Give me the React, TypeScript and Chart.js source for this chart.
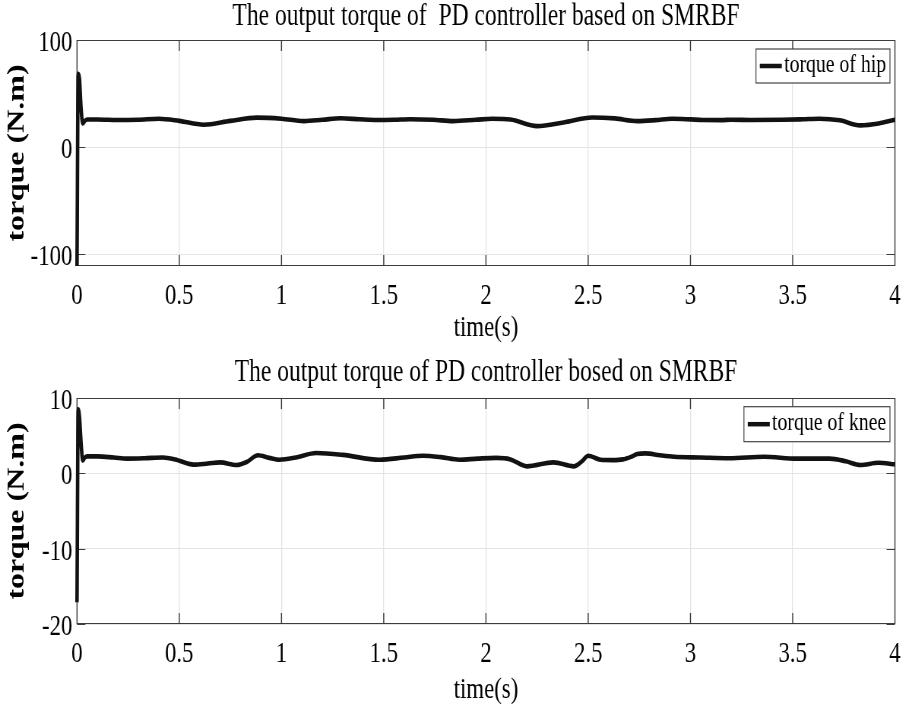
import React, { useEffect, useRef } from 'react';
import { Chart, registerables } from 'chart.js';

Chart.register(...registerables);

// ---------- data ----------
const hipTime = [0, 0.006, 0.012, 0.02, 0.028, 0.038, 0.05, 0.1, 0.2, 0.3, 0.4, 0.5, 0.62, 0.75, 0.88, 1.0, 1.11, 1.2, 1.29, 1.38, 1.47, 1.55, 1.63, 1.74, 1.84, 1.95, 2.03, 2.12, 2.25, 2.38, 2.52, 2.63, 2.74, 2.83, 2.91, 3.0, 3.06, 3.15, 3.2, 3.3, 3.45, 3.55, 3.63, 3.73, 3.83, 3.92, 4.0];
const hipTorque = [-111, 68.5, 64, 36, 22, 24.5, 25.8, 25.8, 25.3, 25.6, 26.5, 24.5, 20.9, 24.5, 27.5, 26.5, 24.3, 25.5, 26.9, 26, 25.3, 25.5, 26, 25.5, 24.3, 25.5, 26.5, 25.8, 19.6, 23, 27.7, 26.8, 24.3, 25.2, 26.5, 25.9, 25.3, 25.2, 25.6, 25.3, 25.5, 26, 26.5, 25, 20.3, 22, 25.6];

const kneeTime = [0, 0.006, 0.012, 0.02, 0.028, 0.038, 0.05, 0.1, 0.18, 0.245, 0.33, 0.42, 0.48, 0.57, 0.64, 0.7, 0.78, 0.83, 0.885, 0.94, 0.99, 1.07, 1.17, 1.3, 1.48, 1.6, 1.69, 1.78, 1.87, 1.96, 2.05, 2.12, 2.2, 2.33, 2.43, 2.47, 2.5, 2.56, 2.62, 2.67, 2.71, 2.74, 2.78, 2.85, 2.92, 3.05, 3.19, 3.36, 3.52, 3.68, 3.76, 3.83, 3.92, 4.0];
const kneeTorque = [-17.1, 8.5, 7.5, 4, 1.7, 2.1, 2.25, 2.25, 2.1, 1.95, 2.0, 2.1, 1.85, 1.15, 1.3, 1.45, 1.1, 1.5, 2.4, 2.05, 1.8, 2.1, 2.7, 2.45, 1.8, 2.1, 2.34, 2.15, 1.8, 1.95, 2.05, 1.85, 0.93, 1.46, 0.93, 1.6, 2.34, 1.8, 1.75, 1.85, 2.2, 2.56, 2.65, 2.4, 2.2, 2.1, 2.0, 2.2, 1.95, 1.95, 1.6, 1.1, 1.4, 1.2];

const xTicks = [0, 0.5, 1, 1.5, 2, 2.5, 3, 3.5, 4];
const xTickLabels = ['0', '0.5', '1', '1.5', '2', '2.5', '3', '3.5', '4'];
const hipYTicks = [-100, 0, 100];
const hipYTickLabels = ['-100', '0', '100'];
const kneeYTicks = [-20, -10, 0, 10];
const kneeYTickLabels = ['-20', '-10', '0', '10'];

const hipTitle = 'The output torque of  PD controller based on SMRBF';
const kneeTitle = 'The output torque of PD controller bosed on SMRBF';
const hipLabel = 'torque of hip';
const kneeLabel = 'torque of knee';
const xTitle = 'time(s)';
const yTitle = 'torque (N.m)';

// ---------- layout ----------
const SCALE_X = 0.76;
const FULL_W = 1197;
const PANEL_H = 355;
const FONT = '"Liberation Serif", "Times New Roman", serif';

const matlabBox = {
  id: 'matlabBox',
  beforeDatasetsDraw(chart: any) {
    const { ctx, chartArea: a, scales } = chart;
    const tl = 11;
    ctx.save();
    ctx.strokeStyle = '#3c3c3c';
    ctx.lineWidth = 1;
    ctx.beginPath();
    ctx.moveTo(a.left, a.top + 0.5); ctx.lineTo(a.right, a.top + 0.5);
    ctx.moveTo(a.left, a.bottom - 0.5); ctx.lineTo(a.right, a.bottom - 0.5);
    scales.y.ticks.forEach((t: any) => {
      const py = Math.round(scales.y.getPixelForValue(t.value)) + 0.5;
      ctx.moveTo(a.left, py); ctx.lineTo(a.left + tl, py);
      ctx.moveTo(a.right, py); ctx.lineTo(a.right - tl, py);
    });
    ctx.stroke();
    ctx.lineWidth = 1.4;
    ctx.beginPath();
    ctx.moveTo(a.left, a.top); ctx.lineTo(a.left, a.bottom);
    ctx.moveTo(a.right, a.top); ctx.lineTo(a.right, a.bottom);
    scales.x.ticks.forEach((t: any) => {
      const px = scales.x.getPixelForValue(t.value);
      ctx.moveTo(px, a.bottom); ctx.lineTo(px, a.bottom - tl);
      ctx.moveTo(px, a.top); ctx.lineTo(px, a.top + tl);
    });
    ctx.stroke();
    ctx.restore();
  },
};

const insideLegend = {
  id: 'insideLegend',
  afterDraw(chart: any, _args: any, opts: any) {
    const { ctx, chartArea: a } = chart;
    const ds = chart.data.datasets[0];
    const label = ds.label as string;
    ctx.save();
    ctx.font = `26px ${FONT}`;
    const tw = ctx.measureText(label).width;
    const padL = 5, lineLen = 29, gap = 3, padR = 5;
    const w = padL + lineLen + gap + tw + padR;
    const h = opts.height;
    const x = a.right - opts.right - w;
    const y = a.top + opts.top;
    ctx.fillStyle = '#ffffff';
    ctx.fillRect(x, y, w, h);
    ctx.strokeStyle = '#444';
    ctx.lineWidth = 1.2;
    ctx.strokeRect(x, y, w, h);
    ctx.strokeStyle = ds.borderColor;
    ctx.lineWidth = 4.5;
    ctx.beginPath();
    ctx.moveTo(x + padL, y + h / 2);
    ctx.lineTo(x + padL + lineLen, y + h / 2);
    ctx.stroke();
    ctx.fillStyle = '#000';
    ctx.textAlign = 'left';
    ctx.textBaseline = 'middle';
    ctx.fillText(label, x + padL + lineLen + gap, y + h / 2 - 1);
    ctx.restore();
  },
};

function makeConfig(p: {
  times: number[]; values: number[]; label: string; title: string;
  yTicks: number[]; yTickLabels: string[]; yMin: number; yMax: number;
  titlePadTop: number; titlePadBottom: number; xAxisH: number; xTitlePadBottom: number;
  legendTop: number; legendH: number;
}): any {
  return {
    type: 'line',
    data: {
      datasets: [{
        label: p.label,
        data: p.times.map((t, i) => ({ x: t, y: p.values[i] })),
        borderColor: '#121212',
        borderWidth: 4.6,
        pointRadius: 0,
        fill: false,
        clip: false,
        cubicInterpolationMode: 'monotone',
      }],
    },
    options: {
      responsive: false,
      maintainAspectRatio: false,
      animation: false,
      events: [],
      layout: { padding: { left: 0, right: 18, top: 0, bottom: 0 } },
      plugins: {
        legend: { display: false },
        tooltip: { enabled: false },
        title: {
          display: true,
          text: p.title,
          fullSize: false,
          color: '#000',
          font: { family: FONT, size: 31, weight: 'normal', lineHeight: 1.1 },
          padding: { top: p.titlePadTop, bottom: p.titlePadBottom },
        },
        insideLegend: { top: p.legendTop, right: 6.5, height: p.legendH },
      },
      scales: {
        x: {
          type: 'linear',
          min: 0,
          max: 4,
          afterBuildTicks: (s: any) => { s.ticks = xTicks.map((v) => ({ value: v })); },
          afterFit: (s: any) => { s.height = p.xAxisH; },
          ticks: {
            callback: (_v: any, i: number) => xTickLabels[i],
            font: { family: FONT, size: 30 },
            color: '#000',
            padding: 12,
            maxRotation: 0,
            autoSkip: false,
          },
          grid: { color: '#e4e4e4', lineWidth: 1.3, drawTicks: false },
          border: { display: false },
          title: {
            display: true,
            text: xTitle,
            color: '#000',
            font: { family: FONT, size: 30, lineHeight: 1.2 },
            padding: { top: 0, bottom: p.xTitlePadBottom },
          },
        },
        y: {
          type: 'linear',
          min: p.yMin,
          max: p.yMax,
          afterBuildTicks: (s: any) => { s.ticks = p.yTicks.map((v) => ({ value: v })); },
          afterFit: (s: any) => { s.width = 101.3; },
          ticks: {
            callback: (_v: any, i: number) => p.yTickLabels[i],
            font: { family: FONT, size: 30 },
            color: '#000',
            padding: 6,
            labelOffset: 3,
            autoSkip: false,
          },
          grid: { color: '#e4e4e4', lineWidth: 1, drawTicks: false },
          border: { display: false },
          title: {
            display: true,
            text: yTitle,
            color: '#000',
            font: { family: FONT, size: 32, weight: 'bold', lineHeight: 1.2 },
            padding: { top: 4, bottom: 0 },
          },
        },
      },
    },
    plugins: [matlabBox, insideLegend],
  };
}

export default function App() {
  const ref1 = useRef<HTMLCanvasElement | null>(null);
  const ref2 = useRef<HTMLCanvasElement | null>(null);

  useEffect(() => {
    const c1 = new Chart(ref1.current as HTMLCanvasElement, makeConfig({
      times: hipTime, values: hipTorque, label: hipLabel, title: hipTitle,
      yTicks: hipYTicks, yTickLabels: hipYTickLabels, yMin: -111, yMax: 100,
      titlePadTop: 0, titlePadBottom: 5.9, xAxisH: 89, xTitlePadBottom: 9,
      legendTop: 9, legendH: 34,
    }));
    const c2 = new Chart(ref2.current as HTMLCanvasElement, makeConfig({
      times: kneeTime, values: kneeTorque, label: kneeLabel, title: kneeTitle,
      yTicks: kneeYTicks, yTickLabels: kneeYTickLabels, yMin: -20, yMax: 10,
      titlePadTop: 0.8, titlePadBottom: 8.1, xAxisH: 86, xTitlePadBottom: 2,
      legendTop: 8.7, legendH: 35,
    }));
    return () => { c1.destroy(); c2.destroy(); };
  }, []);

  const panel = (top: number): React.CSSProperties => ({
    position: 'absolute', left: 0, top, width: FULL_W, height: PANEL_H,
    transform: `scaleX(${SCALE_X})`, transformOrigin: '0 0',
  });

  return (
    <div style={{ position: 'absolute', left: 0, top: 0, width: 910, height: 710, overflow: 'hidden', background: '#fff' }}>
      <div style={panel(0)}>
        <canvas ref={ref1} width={FULL_W} height={PANEL_H} style={{ display: 'block', width: FULL_W, height: PANEL_H }} />
      </div>
      <div style={panel(PANEL_H)}>
        <canvas ref={ref2} width={FULL_W} height={PANEL_H} style={{ display: 'block', width: FULL_W, height: PANEL_H }} />
      </div>
    </div>
  );
}
